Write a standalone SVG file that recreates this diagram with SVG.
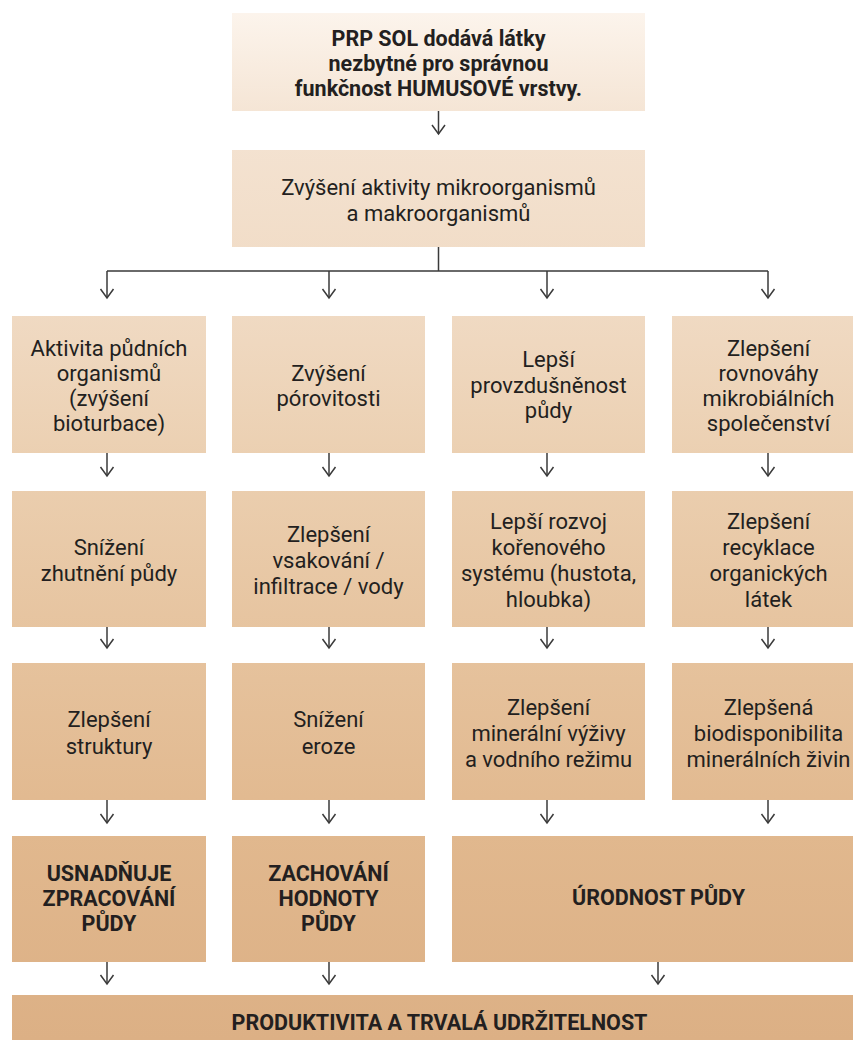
<svg xmlns="http://www.w3.org/2000/svg" width="853" height="1040" viewBox="0 0 853 1040">
<defs>
<linearGradient id="bg" gradientUnits="userSpaceOnUse" x1="0" y1="0" x2="0" y2="1040">
<stop offset="0" stop-color="#fdf6ef"/>
<stop offset="0.12" stop-color="#f4e3d2"/>
<stop offset="0.3" stop-color="#f0dac3"/>
<stop offset="0.45" stop-color="#ebcfb0"/>
<stop offset="0.62" stop-color="#e6c39e"/>
<stop offset="0.8" stop-color="#e1b88e"/>
<stop offset="1" stop-color="#dcb085"/>
</linearGradient>
<marker id="ah" markerUnits="userSpaceOnUse" markerWidth="20" markerHeight="20" refX="0" refY="0" orient="auto" overflow="visible">
<path d="M-9,-6.5 L0,0 L-9,6.5" fill="none" stroke="#3a3a3a" stroke-width="1.5"/>
</marker>
<style>
.box{fill:url(#bg);}
.t{font-family:Roboto,"Liberation Sans",sans-serif;font-size:22px;fill:#231f20;text-anchor:middle;}
.b{font-family:Roboto,"Liberation Sans",sans-serif;font-size:21.5px;font-weight:bold;fill:#231f20;text-anchor:middle;}
.c{fill:none;stroke:#3a3a3a;stroke-width:1.5;}
.a{fill:none;stroke:#3a3a3a;stroke-width:1.5;marker-end:url(#ah);}
</style>
</defs>

<g id="connectors">
<path class="a" d="M438.5,111 V134"/>
<path class="c" d="M438.5,247 V271 M107,271 H768"/>
<path class="a" d="M107,271 V298"/>
<path class="a" d="M329,271 V298"/>
<path class="a" d="M547,271 V298"/>
<path class="a" d="M768,271 V298"/>
<path class="a" d="M107,453 V476"/>
<path class="a" d="M329,453 V476"/>
<path class="a" d="M547,453 V476"/>
<path class="a" d="M768,453 V476"/>
<path class="a" d="M107,627 V648"/>
<path class="a" d="M329,627 V648"/>
<path class="a" d="M547,627 V648"/>
<path class="a" d="M768,627 V648"/>
<path class="a" d="M107,800 V823"/>
<path class="a" d="M329,800 V823"/>
<path class="a" d="M547,800 V823"/>
<path class="a" d="M768,800 V823"/>
<path class="a" d="M107,962 V984"/>
<path class="a" d="M329,962 V984"/>
<path class="a" d="M658,962 V984"/>
</g>

<g id="n-top">
<rect class="box" x="232" y="13" width="413" height="98"/>
<text class="b" x="438.5" y="46">PRP SOL dodává látky</text>
<text class="b" x="438.5" y="71">nezbytné pro správnou</text>
<text class="b" x="438.5" y="96">funkčnost HUMUSOVÉ vrstvy.</text>
</g>

<g id="n-activity">
<rect class="box" x="232" y="150" width="413" height="97"/>
<text class="t" x="438.5" y="195">Zvýšení aktivity mikroorganismů</text>
<text class="t" x="438.5" y="221">a makroorganismů</text>
</g>

<g id="n-r1c1">
<rect class="box" x="12" y="316" width="194" height="137"/>
<text class="t" x="109" y="356">Aktivita půdních</text>
<text class="t" x="109" y="381">organismů</text>
<text class="t" x="109" y="406">(zvýšení</text>
<text class="t" x="109" y="431">bioturbace)</text>
</g>
<g id="n-r1c2">
<rect class="box" x="232" y="316" width="193" height="137"/>
<text class="t" x="328.5" y="381">Zvýšení</text>
<text class="t" x="328.5" y="406">pórovitosti</text>
</g>
<g id="n-r1c3">
<rect class="box" x="452" y="316" width="193" height="137"/>
<text class="t" x="548.5" y="367">Lepší</text>
<text class="t" x="548.5" y="393">provzdušněnost</text>
<text class="t" x="548.5" y="418">půdy</text>
</g>
<g id="n-r1c4">
<rect class="box" x="672" y="316" width="193" height="137"/>
<text class="t" x="768.5" y="356">Zlepšení</text>
<text class="t" x="768.5" y="381">rovnováhy</text>
<text class="t" x="768.5" y="406">mikrobiálních</text>
<text class="t" x="768.5" y="431">společenství</text>
</g>

<g id="n-r2c1">
<rect class="box" x="12" y="491" width="194" height="136"/>
<text class="t" x="109" y="555">Snížení</text>
<text class="t" x="109" y="581">zhutnění půdy</text>
</g>
<g id="n-r2c2">
<rect class="box" x="232" y="491" width="193" height="136"/>
<text class="t" x="328.5" y="542">Zlepšení</text>
<text class="t" x="328.5" y="568">vsakování /</text>
<text class="t" x="328.5" y="594">infiltrace / vody</text>
</g>
<g id="n-r2c3">
<rect class="box" x="452" y="491" width="193" height="136"/>
<text class="t" x="548.5" y="529">Lepší rozvoj</text>
<text class="t" x="548.5" y="555">kořenového</text>
<text class="t" x="548.5" y="581">systému (hustota,</text>
<text class="t" x="548.5" y="607">hloubka)</text>
</g>
<g id="n-r2c4">
<rect class="box" x="672" y="491" width="193" height="136"/>
<text class="t" x="768.5" y="529">Zlepšení</text>
<text class="t" x="768.5" y="555">recyklace</text>
<text class="t" x="768.5" y="581">organických</text>
<text class="t" x="768.5" y="607">látek</text>
</g>

<g id="n-r3c1">
<rect class="box" x="12" y="663" width="194" height="137"/>
<text class="t" x="109" y="727">Zlepšení</text>
<text class="t" x="109" y="754">struktury</text>
</g>
<g id="n-r3c2">
<rect class="box" x="232" y="663" width="193" height="137"/>
<text class="t" x="328.5" y="727">Snížení</text>
<text class="t" x="328.5" y="754">eroze</text>
</g>
<g id="n-r3c3">
<rect class="box" x="452" y="663" width="193" height="137"/>
<text class="t" x="548.5" y="715">Zlepšení</text>
<text class="t" x="548.5" y="741">minerální výživy</text>
<text class="t" x="548.5" y="767">a vodního režimu</text>
</g>
<g id="n-r3c4">
<rect class="box" x="672" y="663" width="193" height="137"/>
<text class="t" x="768.5" y="715">Zlepšená</text>
<text class="t" x="768.5" y="741">biodisponibilita</text>
<text class="t" x="768.5" y="767">minerálních živin</text>
</g>

<g id="n-r4c1">
<rect class="box" x="12" y="836" width="194" height="126"/>
<text class="b" x="109" y="881">USNADŇUJE</text>
<text class="b" x="109" y="906">ZPRACOVÁNÍ</text>
<text class="b" x="109" y="931">PŮDY</text>
</g>
<g id="n-r4c2">
<rect class="box" x="232" y="836" width="193" height="126"/>
<text class="b" x="328.5" y="881">ZACHOVÁNÍ</text>
<text class="b" x="328.5" y="906">HODNOTY</text>
<text class="b" x="328.5" y="931">PŮDY</text>
</g>
<g id="n-r4c3">
<rect class="box" x="452" y="836" width="413" height="126"/>
<text class="b" x="658.5" y="905">ÚRODNOST PŮDY</text>
</g>

<g id="n-final">
<rect class="box" x="12" y="995" width="853" height="50"/>
<text class="b" x="439.5" y="1030">PRODUKTIVITA A TRVALÁ UDRŽITELNOST</text>
</g>
</svg>
